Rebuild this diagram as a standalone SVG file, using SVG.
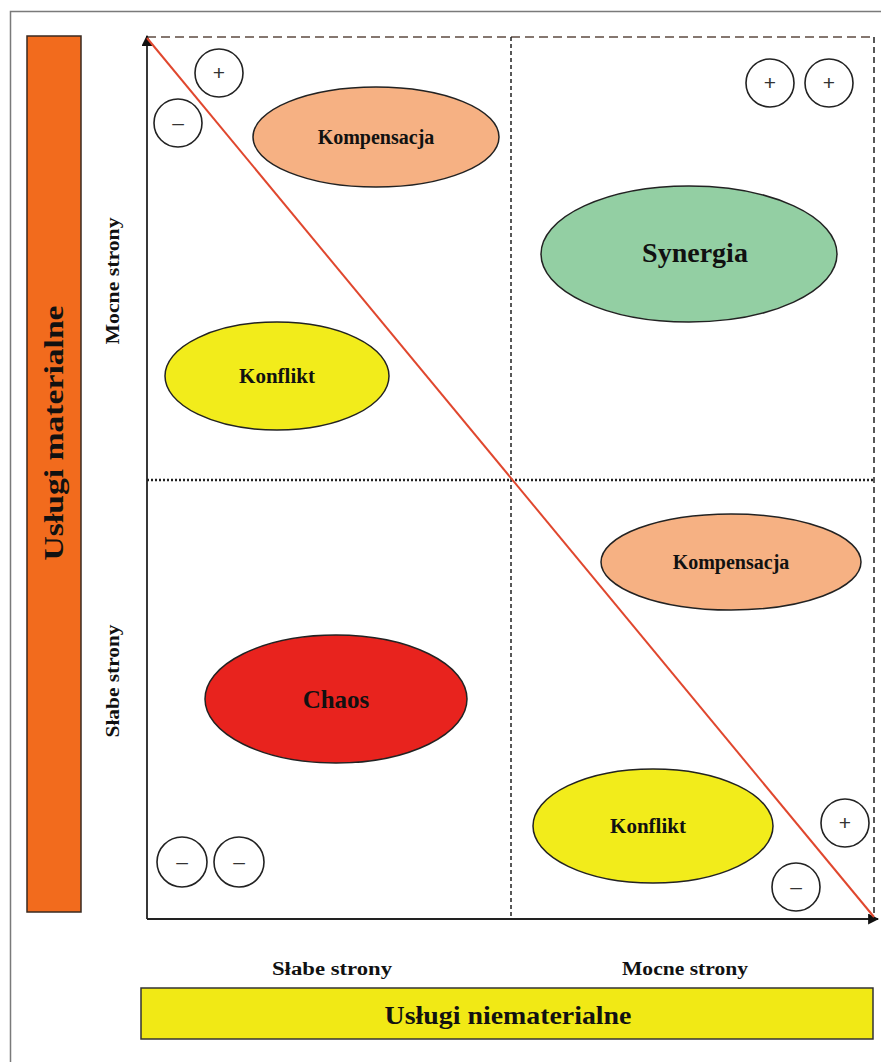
<svg xmlns="http://www.w3.org/2000/svg" width="881" height="1062" viewBox="0 0 881 1062">
<style>
.lbl{font-family:"Liberation Serif","Times New Roman",serif;font-weight:bold;fill:#111;text-anchor:middle}
.ell{stroke:#222;stroke-width:1.5}
.sig{fill:none;stroke:#222;stroke-width:1.6}
.sgt{font-family:"Liberation Sans",Arial,sans-serif;fill:#333;text-anchor:middle;font-size:21px}
</style>
<defs>
<marker id="arr" viewBox="0 0 10 10" refX="9" refY="5" markerWidth="11" markerHeight="11" orient="auto" markerUnits="userSpaceOnUse">
<path d="M0,0 L10,5 L0,10 z" fill="#111"/>
</marker>
</defs>
<rect x="0" y="0" width="881" height="1062" fill="#fff"/>
<rect x="10.5" y="11.5" width="880" height="1060" fill="none" stroke="#7a7a7a" stroke-width="1.5"/>

<g id="bar-left">
<rect x="27" y="36" width="54" height="876" fill="#F26B1D" stroke="#3a2a20" stroke-width="1.5"/>
<text class="lbl" transform="translate(63,433) rotate(-90)" font-size="28" textLength="255" lengthAdjust="spacingAndGlyphs">Usługi materialne</text>
</g>

<g id="bar-bottom">
<rect x="141" y="988" width="732" height="51" fill="#F1E915" stroke="#333" stroke-width="1.5"/>
<text class="lbl" x="508" y="1024" font-size="26" textLength="247" lengthAdjust="spacingAndGlyphs">Usługi niematerialne</text>
</g>

<g id="axis-labels">
<text class="lbl" transform="translate(119,281) rotate(-90)" font-size="18" textLength="127" lengthAdjust="spacingAndGlyphs">Mocne strony</text>
<text class="lbl" transform="translate(119,681) rotate(-90)" font-size="18" textLength="113" lengthAdjust="spacingAndGlyphs">Słabe strony</text>
<text class="lbl" x="332" y="975" font-size="18" textLength="120" lengthAdjust="spacingAndGlyphs">Słabe strony</text>
<text class="lbl" x="685" y="975" font-size="18" textLength="126" lengthAdjust="spacingAndGlyphs">Mocne strony</text>
</g>

<g id="connectors">
<line x1="147" y1="37" x2="874" y2="37" stroke="#857770" stroke-width="2" stroke-dasharray="9,5"/>
<line x1="874" y1="37" x2="874" y2="917" stroke="#222" stroke-width="1.5" stroke-dasharray="6,4"/>
<line x1="511" y1="37" x2="511" y2="919" stroke="#222" stroke-width="1.5" stroke-dasharray="4,3"/>
<line x1="147" y1="480" x2="874" y2="480" stroke="#222" stroke-width="2.5" stroke-dasharray="2,2"/>
<line x1="147" y1="919" x2="147" y2="36" stroke="#222" stroke-width="1.8" marker-end="url(#arr)"/>
<line x1="147" y1="919" x2="878" y2="919" stroke="#222" stroke-width="1.8" marker-end="url(#arr)"/>
<line x1="147" y1="38" x2="874" y2="917" stroke="#E0472E" stroke-width="2"/>
</g>

<g id="kompensacja-top">
<ellipse class="ell" cx="376" cy="137" rx="123" ry="50" fill="#F6B183"/>
<text class="lbl" x="376" y="144" font-size="20">Kompensacja</text>
</g>
<g id="synergia">
<ellipse class="ell" cx="689" cy="254" rx="148" ry="68" fill="#93CFA3"/>
<text class="lbl" x="695" y="262" font-size="28">Synergia</text>
</g>
<g id="konflikt-top">
<ellipse class="ell" cx="277" cy="376" rx="112" ry="54" fill="#F2EC1B"/>
<text class="lbl" x="277" y="383" font-size="21">Konflikt</text>
</g>
<g id="kompensacja-bottom">
<ellipse class="ell" cx="731" cy="562" rx="130" ry="48" fill="#F6B183"/>
<text class="lbl" x="731" y="569" font-size="20">Kompensacja</text>
</g>
<g id="chaos">
<ellipse class="ell" cx="336" cy="699" rx="131" ry="64" fill="#E8231E"/>
<text class="lbl" x="336" y="708" font-size="25">Chaos</text>
</g>
<g id="konflikt-bottom">
<ellipse class="ell" cx="653" cy="826" rx="120" ry="57" fill="#F2EC1B"/>
<text class="lbl" x="648" y="833" font-size="21">Konflikt</text>
</g>

<g id="signs-top-left">
<circle class="sig" cx="219" cy="73" r="24"/><text class="sgt" x="219" y="80">+</text>
<circle class="sig" cx="178" cy="123" r="24"/><text class="sgt" x="178" y="130">–</text>
</g>
<g id="signs-top-right">
<circle class="sig" cx="770" cy="83" r="24"/><text class="sgt" x="770" y="90">+</text>
<circle class="sig" cx="829" cy="83" r="24"/><text class="sgt" x="829" y="90">+</text>
</g>
<g id="signs-bottom-left">
<circle class="sig" cx="182" cy="862" r="25"/><text class="sgt" x="182" y="869">–</text>
<circle class="sig" cx="239" cy="862" r="25"/><text class="sgt" x="239" y="869">–</text>
</g>
<g id="signs-bottom-right">
<circle class="sig" cx="845" cy="823" r="24"/><text class="sgt" x="845" y="830">+</text>
<circle class="sig" cx="796" cy="887" r="24"/><text class="sgt" x="796" y="894">–</text>
</g>
</svg>
